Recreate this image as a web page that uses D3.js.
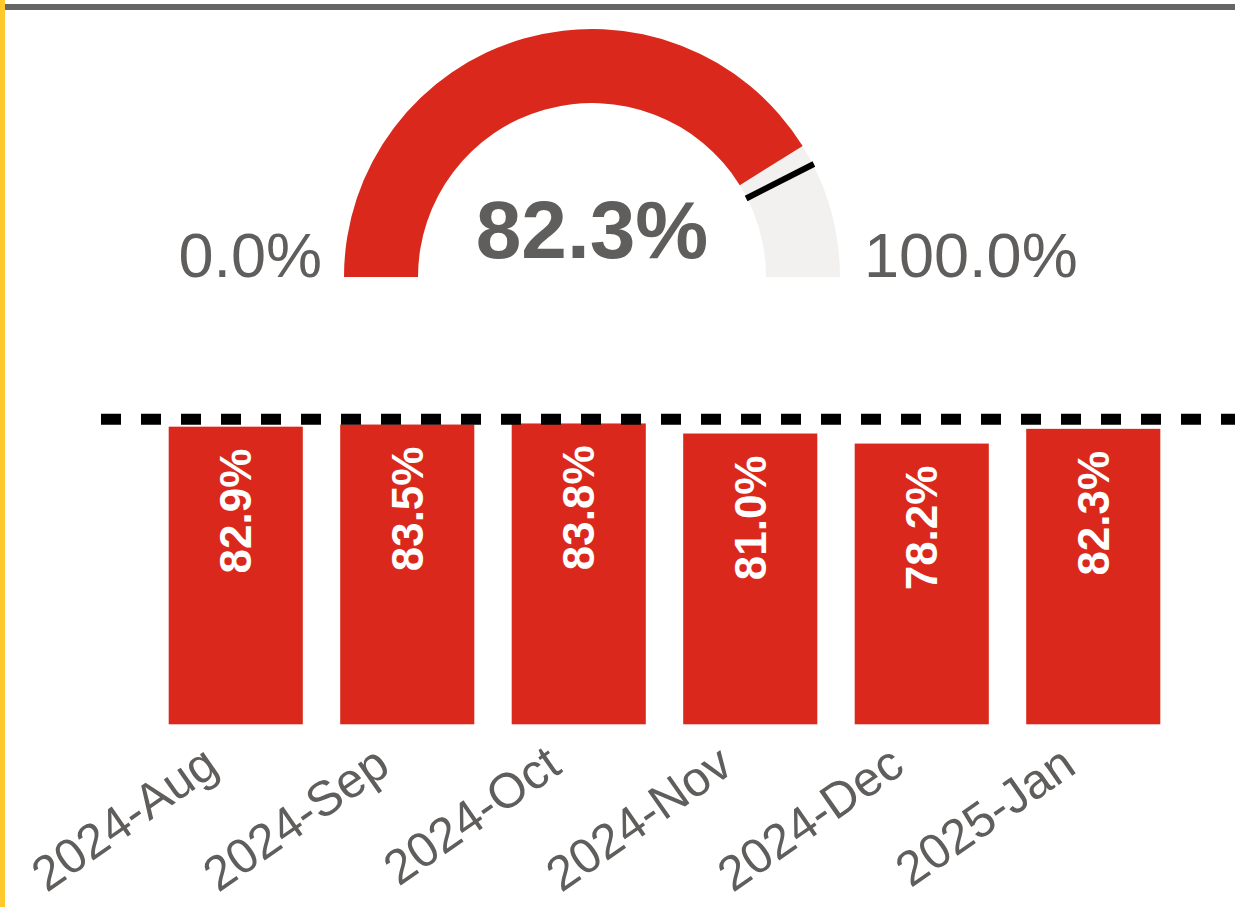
<!DOCTYPE html>
<html lang="en">
  <head>
    <meta charset="utf-8">
    <title>Gauge and monthly bars</title>
    <script src="https://d3js.org/d3.v7.min.js"></script>
    <style>
      body { margin: 0; background: #fff; }
      text { font-family: "Liberation Sans", Arial, sans-serif; }
    </style>
  </head>
  <body>
    <script>
// values
const months = ['2024-Aug', '2024-Sep', '2024-Oct', '2024-Nov', '2024-Dec', '2025-Jan']
const rates = [82.9, 83.5, 83.8, 81.0, 78.2, 82.3]
const target = 85
const gaugeValue = 82.3
const gaugeRange = [0, 100]

const red = '#da291c'
const grey = '#605e5c'

const dims = { width: 1235, height: 907 }

const svg = d3.select('body')
  .append('svg')
  .attr('width', dims.width)
  .attr('height', dims.height)

// frame: yellow left edge and grey top rule
svg.append('rect')
  .attr('x', 0).attr('y', 0)
  .attr('width', 5).attr('height', dims.height)
  .attr('fill', '#ffc82c')
svg.append('rect')
  .attr('x', 5).attr('y', 4)
  .attr('width', dims.width - 5).attr('height', 6)
  .attr('fill', '#666666')

// ---- gauge ----
const gauge = svg.append('g')
  .attr('transform', 'translate(592, 277)')

const inner = 174, outer = 248
const angle = d3.scaleLinear()
  .domain(gaugeRange)
  .range([-Math.PI / 2, Math.PI / 2])

const arc = d3.arc().innerRadius(inner).outerRadius(outer)

gauge.append('path')
  .attr('d', arc({ startAngle: angle(gaugeRange[0]), endAngle: angle(gaugeRange[1]) }))
  .attr('fill', '#f2f1f0')

gauge.append('path')
  .attr('d', arc({ startAngle: angle(gaugeRange[0]), endAngle: angle(gaugeValue) }))
  .attr('fill', red)

const ta = angle(target)
gauge.append('line')
  .attr('x1', (inner - 1) * Math.sin(ta))
  .attr('y1', -(inner - 1) * Math.cos(ta))
  .attr('x2', (outer + 1) * Math.sin(ta))
  .attr('y2', -(outer + 1) * Math.cos(ta))
  .attr('stroke', '#000')
  .attr('stroke-width', 6)

gauge.append('text')
  .attr('x', 0).attr('y', -19)
  .attr('text-anchor', 'middle')
  .attr('font-size', 82)
  .attr('font-weight', 'bold')
  .attr('fill', grey)
  .text(gaugeValue.toFixed(1) + '%')

gauge.append('text')
  .attr('x', -outer - 22).attr('y', 0)
  .attr('text-anchor', 'end')
  .attr('font-size', 63)
  .attr('fill', grey)
  .text(gaugeRange[0].toFixed(1) + '%')

gauge.append('text')
  .attr('x', outer + 24).attr('y', 0)
  .attr('text-anchor', 'start')
  .attr('font-size', 63)
  .attr('fill', grey)
  .text(gaugeRange[1].toFixed(1) + '%')

// ---- bars ----
const x = d3.scaleBand()
  .domain(months)
  .range([150, 1179])
  .paddingInner(0.218)
  .paddingOuter(0.109)

const y = d3.scaleLinear()
  .domain([0, 100])
  .range([724.3, 365.3])

svg.append('g')
  .selectAll('rect')
  .data(rates)
  .join('rect')
  .attr('x', (d, i) => x(months[i]))
  .attr('y', d => y(d))
  .attr('width', x.bandwidth())
  .attr('height', d => y(0) - y(d))
  .attr('fill', red)

svg.append('g')
  .selectAll('text')
  .data(rates)
  .join('text')
  .attr('transform', (d, i) =>
    `translate(${x(months[i]) + x.bandwidth() / 2}, ${y(d) + 22}) rotate(-90)`)
  .attr('text-anchor', 'end')
  .attr('dy', '0.35em')
  .attr('font-size', 44)
  .attr('font-weight', 'bold')
  .attr('fill', '#fff')
  .text(d => d.toFixed(1) + '%')

// target line
svg.append('line')
  .attr('x1', 101).attr('x2', dims.width)
  .attr('y1', y(target)).attr('y2', y(target))
  .attr('stroke', '#000')
  .attr('stroke-width', 11)
  .attr('stroke-dasharray', '20 20')

// x axis
const xAxis = d3.axisBottom(x).tickSize(0).tickPadding(0)
const xAxisGroup = svg.append('g')
  .attr('transform', `translate(0, ${y(0)})`)
  .call(xAxis)

xAxisGroup.select('.domain').remove()
xAxisGroup.selectAll('text')
  .attr('font-family', '"Liberation Sans", Arial, sans-serif')
  .attr('font-size', 49)
  .attr('fill', grey)
  .attr('text-anchor', 'end')
  .attr('x', 0).attr('y', 0).attr('dy', 0)
  .attr('transform', 'translate(-15, 47) rotate(-35)')
    </script>
  </body>
</html>
